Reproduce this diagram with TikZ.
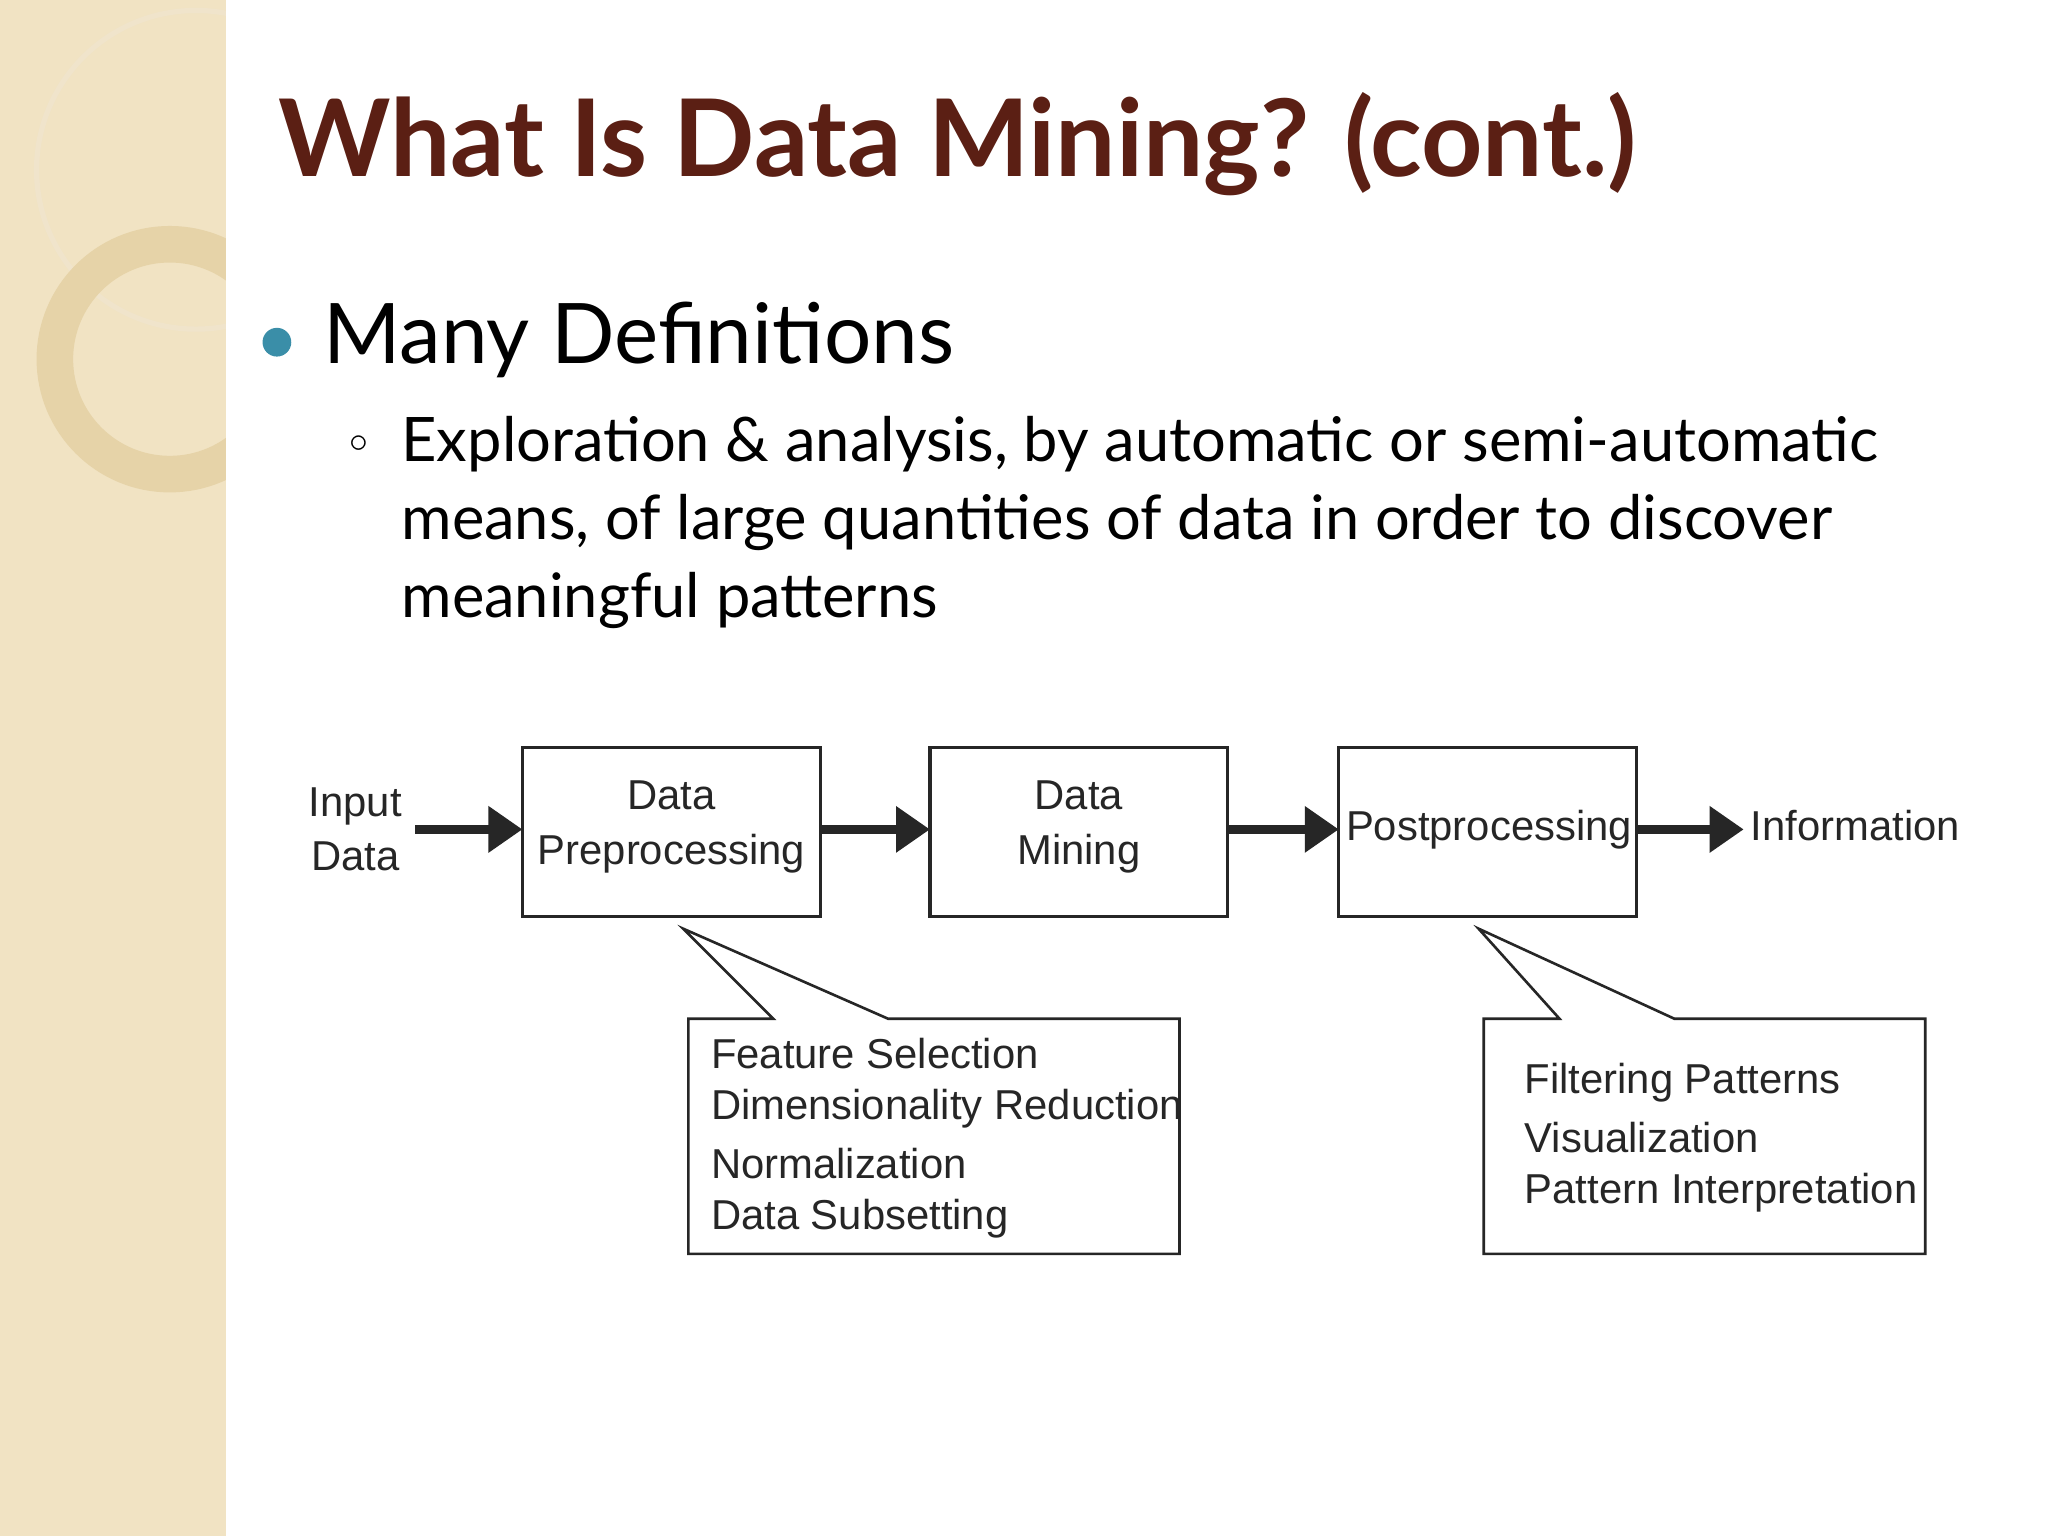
\documentclass[tikz,border=0pt]{standalone}
\usepackage{fontspec}
\setmainfont{Lato}
\newfontfamily\arialf{Liberation Sans}
\usetikzlibrary{arrows.meta}
\definecolor{strip}{HTML}{F1E3C3}
\definecolor{ring}{HTML}{E6D3A8}
\definecolor{titlec}{HTML}{5B1F14}
\definecolor{bul}{HTML}{3A8EA8}
\tikzset{
  boxs/.style={draw=black!85,line width=1.2pt},
  flow/.style={line width=3.2pt,-{Triangle[length=13pt,width=17pt]},black!85},
  dtext/.style={font=\arialf\fontsize{16}{21}\selectfont,text=black!85,align=center,inner sep=0pt},
  ltext/.style={font=\arialf\fontsize{16}{21}\selectfont,text=black!85,align=left,anchor=west,inner sep=0pt},
  body/.style={font=\fontsize{23.5}{30}\selectfont,anchor=west,inner sep=0pt,align=left}
}
\begin{document}
\begin{tikzpicture}[x=0.5pt,y=-0.5pt]
\useasboundingbox (0,0) rectangle (1568,1176);
\fill[white] (0,0) rectangle (1568,1176);
\fill[strip] (0,0) rectangle (173,1176);
\begin{scope}
\clip (0,0) rectangle (173,1176);
\draw[ring!60,line width=2pt] (150,130) circle (122);
\draw[ring,line width=14pt] (130,275) circle (88);
\end{scope}
\node[anchor=west,inner sep=0pt,font=\bfseries\fontsize{41}{48}\selectfont,text=titlec] (title) at (213,110) {What Is Data Mining? (cont.)};
\fill[bul] (212,262) circle (11);
\node[anchor=west,inner sep=0pt,font=\fontsize{32}{38}\selectfont] (many) at (247,260) {Many Definitions};
\node[anchor=center,inner sep=0pt,font=\arialf\fontsize{14}{14}\selectfont] (sb) at (275,340) {$\circ$};
\node[body,anchor=north west] (def) at (307,318) {Exploration \& analysis, by automatic or semi-automatic\\means, of large quantities of data in order to discover\\meaningful patterns};
% diagram
\node[dtext] (in) at (272,635) {Input\\Data};
\draw[boxs] (400,572) rectangle (628,702);
\node[dtext] (pre) at (514,633) {Data\\Preprocessing};
\draw[boxs] (712,572) rectangle (940,702);
\node[dtext] (dm) at (826,633) {Data\\Mining};
\draw[boxs] (1025,572) rectangle (1253,702);
\node[dtext] (post) at (1140,635) {Postprocessing};
\node[dtext,anchor=west] (info) at (1340,632) {Information};
\coordinate (a0) at (318,635); \coordinate (a1) at (400,635);
\coordinate (b0) at (628,635); \coordinate (b1) at (712,635);
\coordinate (c0) at (940,635); \coordinate (c1) at (1025,635);
\coordinate (d0) at (1253,635); \coordinate (d1) at (1335,635);
\draw[flow] (a0)--(a1);
\draw[flow] (b0)--(b1);
\draw[flow] (c0)--(c1);
\draw[flow] (d0)--(d1);
\draw[boxs,line width=1pt] (527,780)--(592,780)--(523,711)--(680,780)--(903,780)--(903,960)--(527,960)--cycle;
\node[ltext] (l1) at (544,807) {Feature Selection};
\node[ltext] (l2) at (544,849) {Dimensionality Reduction};
\node[ltext] (l3) at (544,891) {Normalization};
\node[ltext] (l4) at (544,933) {Data Subsetting};
\draw[boxs,line width=1pt] (1136,780)--(1194,780)--(1132,711)--(1282,780)--(1474,780)--(1474,960)--(1136,960)--cycle;
\node[ltext] (r1) at (1167,829) {Filtering Patterns};
\node[ltext] (r2) at (1167,871) {Visualization};
\node[ltext] (r3) at (1167,913) {Pattern Interpretation};
\end{tikzpicture}
\end{document}
